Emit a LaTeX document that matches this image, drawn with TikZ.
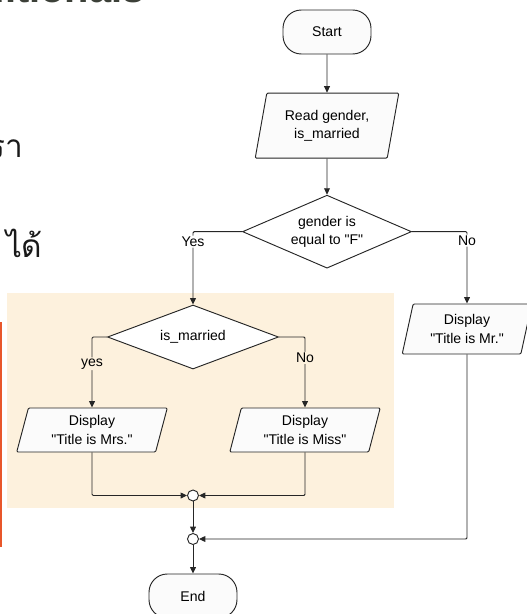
\documentclass[tikz,border=0pt]{standalone}
\usepackage{fontspec}
\setmainfont{Liberation Sans}[Ligatures=TeXOff]
\newfontfamily\thaifont[Script=Thai]{Loma}
\usetikzlibrary{arrows.meta, positioning, shapes.geometric}
\usepackage{xcolor}
\definecolor{peach}{RGB}{253,241,221}
\definecolor{slideorange}{RGB}{232,86,42}
\definecolor{headgray}{RGB}{60,64,56}

\begin{document}
\begin{tikzpicture}[->, >={Triangle[length=5.5pt,width=5pt]}, draw=black!85, line width=0.8pt, font=\fontsize{12}{15.5}\selectfont]
    \tikzstyle{terminal}=[rectangle, rounded corners=0.55cm, draw=black!85, fill=gray!3, minimum width=2.64cm, minimum height=1.32cm]
    \tikzstyle{io}=[trapezium, trapezium left angle=76, trapezium right angle=104, trapezium stretches=true, draw=black!85, fill=gray!3, rounded corners=1pt, align=center, inner sep=1pt]
    \tikzstyle{decision}=[diamond, draw=black!85, fill=white, align=center, inner sep=0pt, aspect=2.3]
    \tikzstyle{junction}=[circle, draw=black!85, fill=white, minimum size=0.33cm, inner sep=0pt]
    \tikzstyle{lab}=[fill=white, inner sep=1pt]
    \tikzstyle{lab in}=[lab, fill=peach]
    \tikzstyle{thai}=[anchor=base east, inner sep=0pt, text=black!90, font=\thaifont\fontsize{27}{32}\selectfont]

    \useasboundingbox (0,0) rectangle (15.78,-18.42);

    \fill[peach] (0.21,-8.79) rectangle (11.82,-15.24);
    \fill[slideorange] (0,-9.66) rectangle (0.06,-16.41);

    \node[anchor=base east, inner sep=0pt, text=headgray, font=\bfseries\fontsize{34}{40}\selectfont] (head) at (4.35,-0.09) {Conditionals};
    \node[thai] (th-1) at (0.72,-4.71) {รา};
    \node[thai] (th-2) at (1.29,-7.71) {ได้};

    \node[terminal] (start) at (9.81,-0.96) {Start};
    \node[io, minimum width=4.32cm, minimum height=1.95cm] (read) at (9.81,-3.77) {Read gender,\\is\_married};
    \node[decision, minimum width=5.07cm, minimum height=2.19cm] (D-1) at (9.81,-6.95) {gender is\\equal to "F"};
    \node[decision, minimum width=5.13cm, minimum height=1.92cm] (D-2) at (5.79,-10.11) {is\_married};
    \node[io, minimum width=4.53cm, minimum height=1.32cm] (mrs) at (2.76,-12.9) {Display\\"Title is Mrs."};
    \node[io, minimum width=4.53cm, minimum height=1.32cm] (miss) at (9.15,-12.9) {Display\\"Title is Miss"};
    \node[io, minimum width=3.9cm, minimum height=1.5cm] (mr) at (14.01,-9.87) {Display\\"Title is Mr."};
    \node[junction] (J-1) at (5.79,-14.865) {};
    \node[junction] (J-2) at (5.79,-16.17) {};
    \node[terminal] (end) at (5.79,-17.88) {End};

    \draw (start) -- (read);
    \draw (read) -- (D-1);
    \draw[rounded corners=1pt] (D-1.west) -| node[lab, pos=0.568] {Yes} (D-2.north);
    \draw[rounded corners=1pt] (D-1.east) -| node[lab, pos=0.562] {No} (mr.north);
    \draw[rounded corners=1pt] (D-2.west) -| node[lab in, pos=0.69] {yes} (mrs.north);
    \draw[rounded corners=1pt] (D-2.east) -| node[lab in, pos=0.648] {No} (miss.north);
    \draw[rounded corners=1pt] (mrs.south) |- (J-1.west);
    \draw[rounded corners=1pt] (miss.south) |- (J-1.east);
    \draw (J-1) -- (J-2);
    \draw[rounded corners=1pt] (mr.south) |- (J-2.east);
    \draw (J-2) -- (end);
\end{tikzpicture}
\end{document}
